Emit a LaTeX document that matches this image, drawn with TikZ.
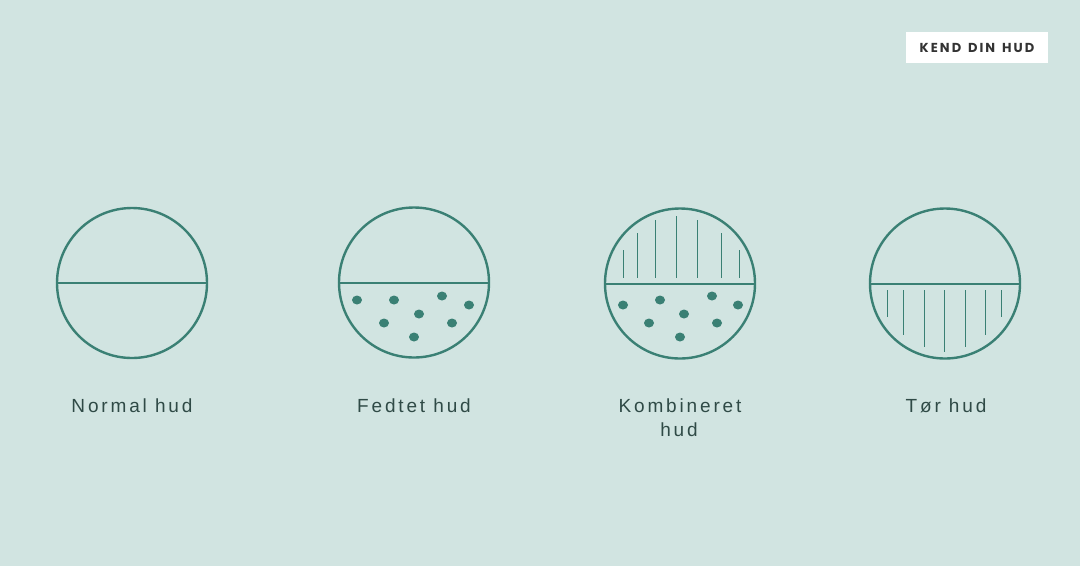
\documentclass[tikz,border=0pt]{standalone}
\usepackage{fontspec}
\setmainfont{Liberation Sans}
\newfontfamily\labelfont[LetterSpace=15]{Liberation Sans}
\newfontfamily\tagfont[LetterSpace=16,WordSpace=1.4]{Poppins}
\definecolor{bg}{HTML}{D1E4E1}
\definecolor{teal}{HTML}{3A8074}
\definecolor{txt}{HTML}{2F4A46}
\begin{document}
\begin{tikzpicture}[x=1pt,y=-1pt,
  ring/.style={draw=teal,line width=2.4pt},
  mid/.style={draw=teal,line width=2pt},
  hair/.style={draw=teal,line width=1pt},
  dot/.style={fill=teal},
  lbl/.style={anchor=base,text=txt,font=\labelfont\fontsize{19}{24}\selectfont,inner sep=0pt},
]
\fill[bg] (0,0) rectangle (1080,566);
\useasboundingbox (0,0) rectangle (1080,566);
% tag
\node[fill=white,minimum width=142pt,minimum height=31pt,inner sep=0pt,text=black!80,font=\tagfont\bfseries\fontsize{13}{15}\selectfont] (tag) at (977,47.5) {KEND DIN HUD};
% circle 1
\node[circle,ring,minimum size=150pt,inner sep=0pt] (c1) at (132,283) {};
\draw[mid] (c1.west) -- (c1.east);
\node[lbl] (l1) at (132,412) {Normal hud};
% circle 2
\node[circle,ring,minimum size=150pt,inner sep=0pt] (c2) at (414,282.5) {};
\draw[mid] (c2.west) -- (c2.east);
\foreach \x/\y in {357/300,394/300,442/296,469/305,419/314,384/323,452/323,414/337}
  \fill[dot] (\x,\y) ellipse (5pt and 4.5pt);
\node[lbl] (l2) at (414,412) {Fedtet hud};
% circle 3
\node[circle,ring,minimum size=150pt,inner sep=0pt] (c3) at (680,283.5) {};
\draw[mid] (c3.west) -- (c3.east);
\foreach \x/\y in {623/305,660/300,712/296,738/305,684/314,649/323,717/323,680/337}
  \fill[dot] (\x,\y) ellipse (5pt and 4.5pt);
\foreach \x/\t in {623/250,637/233,655/220,676/216,697/220,721/233,739/250}
  \draw[hair] (\x,\t) -- (\x,278);
\node[lbl] (l3) at (680,412) {Kombineret};
\node[lbl] (l3b) at (679,436) {hud};
% circle 4
\node[circle,ring,minimum size=150pt,inner sep=0pt] (c4) at (945,283.5) {};
\draw[mid] (c4.west) -- (c4.east);
\foreach \x/\b in {887/317,903/335,924/347,944/352,965/347,985/335,1001/317}
  \draw[hair] (\x,290) -- (\x,\b);
\node[lbl] (l4) at (946,412) {Tør hud};
\end{tikzpicture}
\end{document}
